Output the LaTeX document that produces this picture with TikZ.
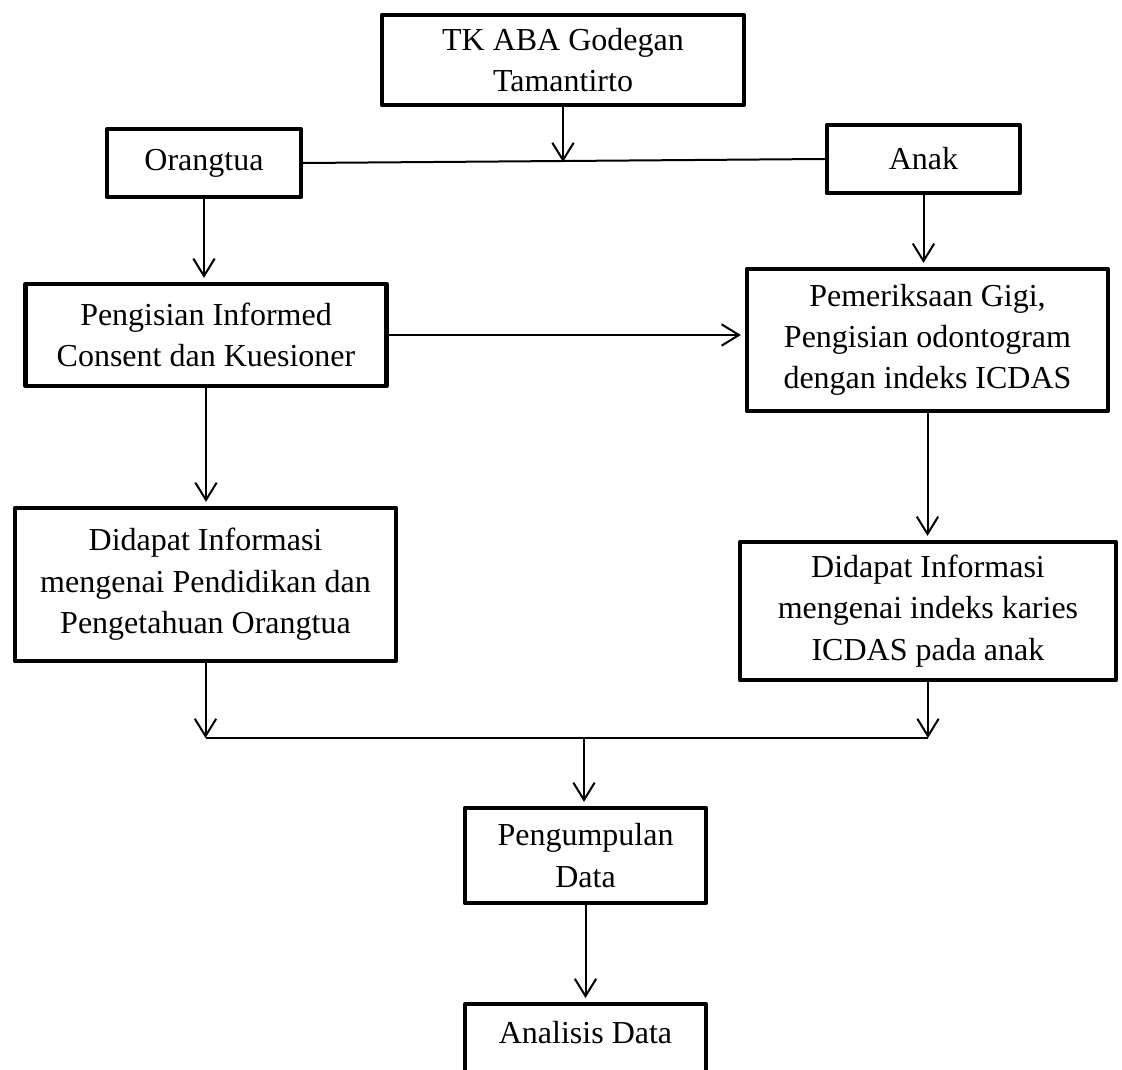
\documentclass[tikz,border=0pt]{standalone}
\usepackage{fontspec}
\setmainfont{Liberation Serif}
\usetikzlibrary{arrows.meta}
\begin{document}
\begin{tikzpicture}[x=0.75pt,y=-0.75pt,
  box/.style={draw, line width=3.2pt, line join=round, align=center, inner sep=0pt,
    font=\fontsize{24pt}{31pt}\selectfont},
  txt/.style={align=center, inner sep=0pt, font=\fontsize{24pt}{31pt}\selectfont},
  conn/.style={line width=1.5pt},
  arr0/.style={conn, -{Straight Barb[length=13pt,width=16pt,line width=1.5pt]}},
  arr/.style={arr0, shorten >=3pt}]
\useasboundingbox (0,0) rectangle (1122,1070);
\clip (0,0) rectangle (1122,1070);

\node[box, minimum width=271.5pt, minimum height=67.5pt] (tk) at (563,60) {TK ABA Godegan\\Tamantirto};
\node[box, minimum width=145.5pt, minimum height=51pt] (ot) at (204,163) {Orangtua};
\node[box, minimum width=144.75pt, minimum height=51pt] (anak) at (923.5,159) {Anak};
\node[box, minimum width=270.75pt, minimum height=76.5pt] (pic) at (206,335) {Pengisian Informed\\Consent dan Kuesioner};
\node[box, minimum width=270.75pt, minimum height=106.5pt] (pg) at (927.5,340) {Pemeriksaan Gigi,\\Pengisian odontogram\\dengan indeks ICDAS};
\node[box, minimum width=285.75pt, minimum height=114.75pt] (dl) at (205.5,584.5) {Didapat Informasi\\mengenai Pendidikan dan\\Pengetahuan Orangtua};
\node[box, minimum width=282pt, minimum height=103.5pt] (dr) at (928,611) {Didapat Informasi\\mengenai indeks karies\\ICDAS pada anak};
\node[box, minimum width=180.75pt, minimum height=71.25pt] (pd) at (585.5,855.5) {Pengumpulan\\Data};
\node[box, anchor=north, minimum width=180.75pt, minimum height=67.5pt] (ad) at (585.5,1002) {};
\node[txt] (adt) at (585.5,1033) {Analisis Data};

\coordinate (j1) at (563,162);
\coordinate (jm) at (584,738);

\draw[arr0] (tk.south) -- (j1);
\draw[conn] (ot.east) -- (anak.west);
\draw[arr] (ot.south) -- (ot.south |- pic.north);
\draw[arr] (anak.south) -- (anak.south |- pg.north);
\draw[arr] (pic.east) -- (pic.east -| pg.west);
\draw[arr] (pic.south) -- (pic.south |- dl.north);
\draw[arr] (pg.south) -- (pg.south |- dr.north);
\draw[arr0] (dl.south) -- (dl.south |- jm);
\draw[arr0] (dr.south) -- (dr.south |- jm);
\draw[conn] (dl.south |- jm) -- (dr.south |- jm);
\draw[arr] (jm) -- (jm |- pd.north);
\draw[arr] (pd.south) -- (pd.south |- ad.north);
\end{tikzpicture}
\end{document}
